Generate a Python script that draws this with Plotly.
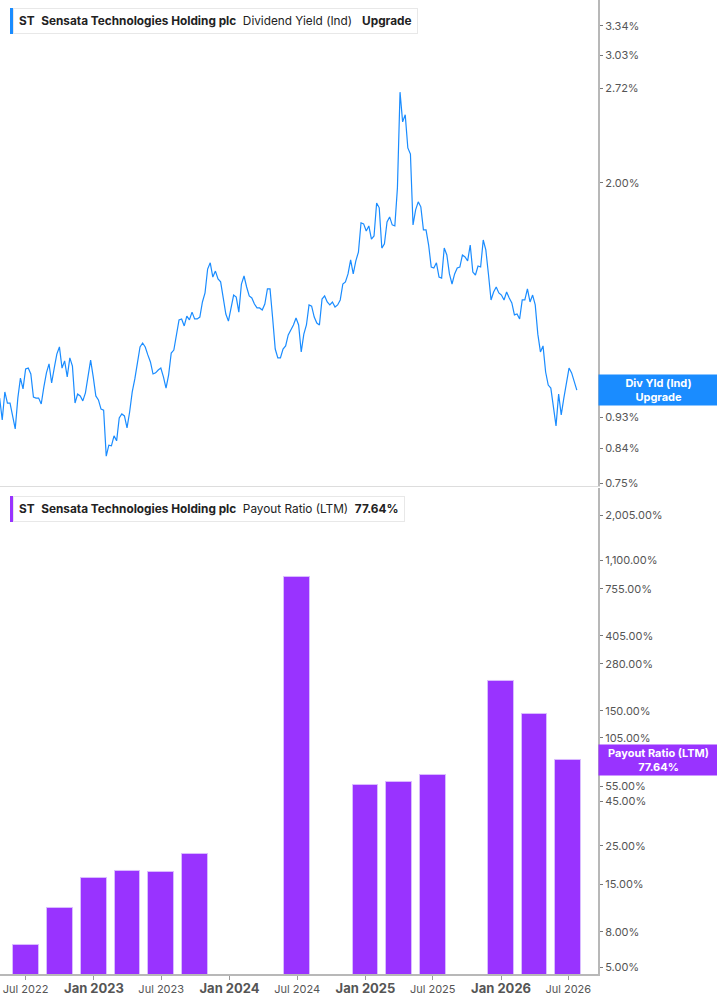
import numpy as np
import pandas as pd
import plotly.graph_objects as go

# weekly dividend yield (%)
div_dates = pd.date_range("2022-04-22", periods=223, freq="7D")
div_yield = [
    0.990, 0.922, 1.010, 0.974, 0.974, 0.928, 0.895, 0.990, 1.057, 1.020,
    1.089, 1.092, 1.071, 0.993, 0.990, 0.990, 0.971, 1.026, 1.075, 1.107,
    1.040, 1.092, 1.143, 1.170, 1.092, 1.118, 1.061, 1.129, 1.099, 0.974,
    1.003, 0.997, 0.981, 1.007, 1.071, 1.121, 1.061, 0.997, 0.984, 0.955,
    0.952, 0.819, 0.849, 0.847, 0.875, 0.861, 0.928, 0.940, 0.934, 0.898,
    0.946, 1.010, 1.054, 1.114, 1.170, 1.185, 1.170, 1.140, 1.114, 1.071,
    1.075, 1.085, 1.092, 1.061, 1.023, 1.068, 1.147, 1.158, 1.212, 1.278,
    1.282, 1.253, 1.294, 1.278, 1.311, 1.282, 1.282, 1.290, 1.355, 1.396,
    1.509, 1.540, 1.470, 1.499, 1.461, 1.447, 1.373, 1.303, 1.273, 1.329,
    1.386, 1.377, 1.311, 1.437, 1.475, 1.423, 1.382, 1.373, 1.346, 1.329,
    1.329, 1.320, 1.346, 1.414, 1.414, 1.286, 1.162, 1.129, 1.129, 1.162,
    1.174, 1.217, 1.236, 1.257, 1.286, 1.257, 1.151, 1.220, 1.257, 1.342,
    1.337, 1.290, 1.265, 1.257, 1.368, 1.382, 1.355, 1.342, 1.355, 1.333,
    1.342, 1.364, 1.437, 1.447, 1.485, 1.555, 1.485, 1.550, 1.595, 1.755,
    1.749, 1.709, 1.737, 1.664, 1.681, 1.872, 1.843, 1.616, 1.638, 1.760,
    1.789, 1.743, 1.737, 1.967, 2.689, 2.440, 2.497, 2.241, 2.197, 1.743,
    1.831, 1.879, 1.849, 1.715, 1.715, 1.632, 1.519, 1.514, 1.540, 1.470,
    1.465, 1.616, 1.580, 1.485, 1.437, 1.485, 1.514, 1.519, 1.580, 1.570,
    1.550, 1.632, 1.494, 1.480, 1.524, 1.519, 1.659, 1.606, 1.485, 1.364,
    1.400, 1.423, 1.396, 1.386, 1.364, 1.400, 1.373, 1.351, 1.299, 1.303,
    1.282, 1.364, 1.364, 1.414, 1.355, 1.386, 1.342, 1.220, 1.151, 1.174,
    1.078, 1.033, 1.023, 0.965, 0.904, 1.003, 0.937, 0.990, 1.040, 1.092,
    1.075, 1.043, 1.016,
]

# quarterly payout ratio (LTM, %)
payout_dates = ["2022-07-01", "2022-10-01", "2023-01-01", "2023-04-01", "2023-07-01",
                "2023-10-01", "2024-07-01", "2025-01-01", "2025-04-01", "2025-07-01",
                "2026-01-01", "2026-04-01", "2026-07-01"]
payout_ratio = [6.72, 11.02, 16.35, 18.01, 17.63, 22.47, 885.0,
                55.9, 58.4, 64.1, 223.9, 143.9, 77.64]

yield_ticks = [0.75, 0.84, 0.93, 1.00, 2.00, 2.72, 3.03, 3.34]
payout_ticks = [5, 8, 15, 25, 45, 55, 105, 150, 280, 405, 755, 1100, 2005]
date_ticks = ["2022-07-01", "2023-01-01", "2023-07-01", "2024-01-01", "2024-07-01",
              "2025-01-01", "2025-07-01", "2026-01-01", "2026-07-01"]
date_labels = ["Jul 2022", "Jan 2023", "Jul 2023", "Jan 2024", "Jul 2024",
               "Jan 2025", "Jul 2025", "Jan 2026", "Jul 2026"]

BLUE = "#1a8cff"
PURPLE = "#9933ff"
FONT = "Inter"

x_range = ["2022-04-23", "2026-09-19"]

fig = go.Figure()
fig.add_trace(go.Scatter(
    x=div_dates, y=div_yield, mode="lines",
    line=dict(color=BLUE, width=1.2),
    xaxis="x", yaxis="y", showlegend=False,
))
fig.add_trace(go.Bar(
    x=pd.to_datetime(payout_dates), y=payout_ratio,
    marker=dict(color=PURPLE, line=dict(color="#d9bcff", width=1)),
    width=6.0e9,
    xaxis="x2", yaxis="y2", showlegend=False,
))

tick_font = dict(family=FONT, size=11, color="#555555")
xt = [f"<b><span style='font-size:13px'>{t}</span></b>" if t.startswith("Jan") else t
      for t in date_labels]

fig.update_layout(
    width=717, height=1005,
    margin=dict(l=0, r=119, t=0, b=31),
    plot_bgcolor="white", paper_bgcolor="white",
    font=dict(family=FONT, color="#333333"),
    bargap=0,
    xaxis=dict(domain=[0, 1], anchor="y", range=x_range, showticklabels=False,
               showgrid=False, zeroline=False, showline=True,
               linecolor="#dddddd", linewidth=1),
    yaxis=dict(domain=[0.501, 1], anchor="x", type="log", side="right",
               range=[-0.1291, 0.5603],
               tickvals=yield_ticks, ticktext=[f"{v:.2f}%" for v in yield_ticks],
               tickfont=tick_font, ticks="outside", ticklen=3, tickcolor="#777777",
               showgrid=False, zeroline=False, showline=True,
               linecolor="#b8b8b8", linewidth=2),
    xaxis2=dict(domain=[0, 1], anchor="y2", range=x_range,
                tickvals=date_ticks, ticktext=xt, tickangle=0,
                tickfont=tick_font, ticks="outside", ticklen=4, tickcolor="#999999",
                showgrid=False, zeroline=False, showline=True,
                linecolor="#b8b8b8", linewidth=2),
    yaxis2=dict(domain=[0, 0.499], anchor="x2", type="log", side="right",
                range=[0.6604, 3.459],
                tickvals=payout_ticks, ticktext=[f"{v:,.2f}%" for v in payout_ticks],
                tickfont=tick_font, ticks="outside", ticklen=3, tickcolor="#777777",
                showgrid=False, zeroline=False, showline=True,
                linecolor="#b8b8b8", linewidth=2),
)

# legend boxes at the top-left of each panel
legends = [
    ("<b>ST</b>  <b>Sensata Technologies Holding plc</b>  Dividend Yield (Ind)   <b>Upgrade</b>",
     1.0, BLUE),
    ("<b>ST</b>  <b>Sensata Technologies Holding plc</b>  Payout Ratio (LTM)  <b>77.64%</b>",
     0.499, PURPLE),
]
for text, ytop, col in legends:
    fig.add_annotation(
        xref="paper", yref="paper", x=0, y=ytop, xanchor="left", yanchor="top",
        xshift=13, yshift=-8, text=text, showarrow=False, align="left",
        font=dict(family=FONT, size=11.8, color="#222222"),
        bgcolor="white", bordercolor="#e8e8e8", borderwidth=1, borderpad=5,
    )
    fig.add_shape(
        type="rect", xref="paper", yref="paper",
        xsizemode="pixel", ysizemode="pixel", xanchor=0, yanchor=ytop,
        x0=10, x1=14, y0=-8, y1=-34,
        fillcolor=col, line=dict(width=0),
    )

# value labels on the right axis
fig.add_annotation(
    xref="paper", yref="y", x=1, y=np.log10(div_yield[-1]), xanchor="left",
    yanchor="middle", text="<b>Div Yld (Ind)<br>Upgrade</b>", showarrow=False,
    font=dict(family=FONT, size=11, color="white"), bgcolor=BLUE,
    width=117, borderpad=1, align="center",
)
fig.add_annotation(
    xref="paper", yref="y2", x=1, y=np.log10(payout_ratio[-1]), xanchor="left",
    yanchor="middle", text="<b>Payout Ratio (LTM)<br>77.64%</b>", showarrow=False,
    font=dict(family=FONT, size=11, color="white"), bgcolor=PURPLE,
    width=117, borderpad=1, align="center",
)

fig.write_html("out.html", config={"displayModeBar": False},
               post_script="document.body.style.margin='0';")
